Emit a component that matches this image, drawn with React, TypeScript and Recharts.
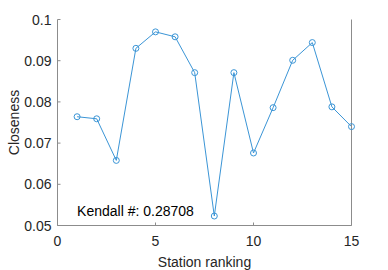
import { LineChart, Line, XAxis, YAxis, ReferenceDot } from "recharts";

const rankings = [1, 2, 3, 4, 5, 6, 7, 8, 9, 10, 11, 12, 13, 14, 15];
const closeness = [
  0.0764, 0.0759, 0.0658, 0.093, 0.097, 0.0958, 0.0871, 0.0523, 0.0871, 0.0676,
  0.0786, 0.0901, 0.0944, 0.0788, 0.074,
];
const xTicks = [0, 5, 10, 15];
const yTicks = [0.05, 0.06, 0.07, 0.08, 0.09, 0.1];
const kendallText = "Kendall #: 0.28708";
const kendallPos = { x: 1, y: 0.0536 };

const data = rankings.map((r, i) => ({ rank: r, value: closeness[i] }));

const FONT = "'Liberation Sans', Arial, sans-serif";
const AXIS = "#8c8c8c";
const TEXT = "#262626";
const BLUE = "#3b95d6";

const fmtY = (v: number) => String(Number(v.toFixed(2)));

function BottomTick({ x, y, payload }: any) {
  return (
    <g>
      <line x1={x} y1={y} x2={x} y2={y - 3} stroke={AXIS} />
      <text x={x} y={y + 20.5} textAnchor="middle" fontSize={14} fontFamily={FONT} fill={TEXT}>
        {payload.value}
      </text>
    </g>
  );
}

function TopTick({ x, y }: any) {
  return <line x1={x} y1={y} x2={x} y2={y + 3} stroke={AXIS} />;
}

function LeftTick({ x, y, payload }: any) {
  return (
    <g>
      <line x1={x} y1={y} x2={x + 3} y2={y} stroke={AXIS} />
      <text x={x - 6} y={y + 5} textAnchor="end" fontSize={14} fontFamily={FONT} fill={TEXT}>
        {fmtY(payload.value)}
      </text>
    </g>
  );
}

function RightTick({ x, y }: any) {
  return <line x1={x} y1={y} x2={x - 3} y2={y} stroke={AXIS} />;
}

export default function App() {
  return (
    <div style={{ position: "fixed", left: 0, top: 0, width: 388, height: 270, background: "#fff" }}>
      <LineChart
        width={388}
        height={270}
        data={data}
        margin={{ top: 19.5, right: 26.5, bottom: 0, left: 7.5 }}
      >
        <XAxis
          xAxisId="bottom"
          dataKey="rank"
          type="number"
          domain={[0, 15]}
          ticks={xTicks}
          orientation="bottom"
          height={44.5}
          stroke={AXIS}
          tickLine={false}
          tickSize={0}
          tickMargin={0}
          tick={<BottomTick />}
          label={{
            content: ({ viewBox }: any) => (
              <text
                x={viewBox.x + viewBox.width / 2}
                y={viewBox.y + 41}
                textAnchor="middle"
                fontSize={14}
                fontFamily={FONT}
                fill={TEXT}
              >
                Station ranking
              </text>
            ),
          }}
        />
        <XAxis
          xAxisId="top"
          dataKey="rank"
          type="number"
          domain={[0, 15]}
          ticks={xTicks}
          orientation="top"
          height={0}
          stroke={AXIS}
          tickLine={false}
          tickSize={0}
          tickMargin={0}
          tick={<TopTick />}
        />
        <YAxis
          yAxisId="left"
          type="number"
          domain={[0.05, 0.1]}
          ticks={yTicks}
          orientation="left"
          width={50}
          stroke={AXIS}
          tickLine={false}
          tickSize={0}
          tickMargin={0}
          tick={<LeftTick />}
          label={{
            content: ({ viewBox }: any) => {
              const cx = 18.5;
              const cy = viewBox.y + viewBox.height / 2;
              return (
                <text
                  x={cx}
                  y={cy}
                  transform={`rotate(-90, ${cx}, ${cy})`}
                  textAnchor="middle"
                  fontSize={14}
                  fontFamily={FONT}
                  fill={TEXT}
                >
                  Closeness
                </text>
              );
            },
          }}
        />
        <YAxis
          yAxisId="right"
          type="number"
          domain={[0.05, 0.1]}
          ticks={yTicks}
          orientation="right"
          width={10}
          stroke={AXIS}
          tickLine={false}
          tickSize={0}
          tickMargin={0}
          tick={<RightTick />}
        />
        <Line
          xAxisId="bottom"
          yAxisId="left"
          dataKey="value"
          stroke={BLUE}
          strokeWidth={1}
          type="linear"
          dot={{ r: 3, stroke: BLUE, strokeWidth: 1, fill: "none" }}
          activeDot={false}
          isAnimationActive={false}
        />
        <ReferenceDot
          xAxisId="bottom"
          yAxisId="left"
          x={kendallPos.x}
          y={kendallPos.y}
          r={0}
          stroke="none"
          fill="none"
          label={{
            content: ({ viewBox }: any) => (
              <text
                x={viewBox.x + viewBox.width / 2}
                y={viewBox.y + viewBox.height / 2 + 5}
                textAnchor="start"
                fontSize={14}
                fontFamily={FONT}
                fill="#000"
              >
                {kendallText}
              </text>
            ),
          }}
        />
      </LineChart>
    </div>
  );
}
